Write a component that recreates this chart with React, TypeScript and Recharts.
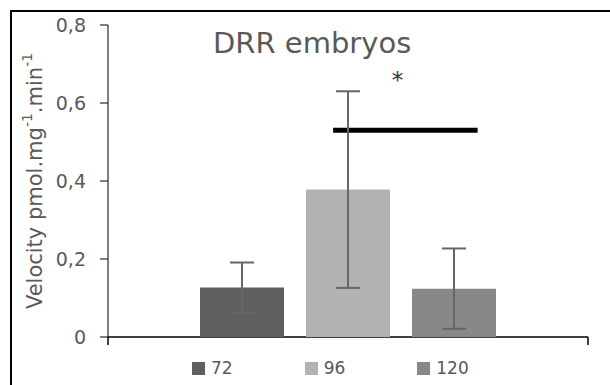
import { BarChart, Bar, XAxis, YAxis, ErrorBar, LineChart, Line, ReferenceDot } from 'recharts';

// hpf groups and measured velocity (mean, SD)
const categories = ['72', '96', '120'];
const means = [0.127, 0.378, 0.124];
const errors = [0.064, 0.252, 0.103];
const colors = ['#5f5f5f', '#b2b2b2', '#888888'];
const yTicks = [0, 0.2, 0.4, 0.6, 0.8];

// significance bar between 96 and 120 (fraction of plot width, value)
const sigBar = [
  { x: 0.469, y: 0.53 },
  { x: 0.77, y: 0.53 },
];
const sigStar = { x: 0.603, y: 0.66 };

const font = '"DejaVu Sans", sans-serif';
const textColor = '#595959';
const margin = { top: 25, right: 22, left: 0, bottom: 48 };

const row: Record<string, string | number> = { name: '' };
categories.forEach((c, i) => {
  row['m' + c] = means[i];
  row['e' + c] = errors[i];
});
const data = [row];

const fmt = (v: number) => (v === 0 ? '0' : v.toFixed(1).replace('.', ','));

function YLabel(props: any) {
  const vb = props.viewBox || {};
  const cx = vb.x + 35;
  const cy = vb.y + vb.height / 2;
  return (
    <text
      x={cx}
      y={cy}
      transform={`rotate(-90, ${cx}, ${cy})`}
      textAnchor="middle"
      dominantBaseline="central"
      fill={textColor}
      fontFamily={font}
      fontSize={21}
    >
      <tspan>Velocity pmol.mg</tspan>
      <tspan fontSize={14} dy={-8}>-1</tspan>
      <tspan dy={8}>.min</tspan>
      <tspan fontSize={14} dy={-8}>-1</tspan>
    </text>
  );
}

function Star(props: any) {
  const vb = props.viewBox || {};
  return (
    <text
      x={vb.x}
      y={vb.y}
      textAnchor="middle"
      dominantBaseline="central"
      fill="#333333"
      fontFamily={font}
      fontSize={23}
    >
      *
    </text>
  );
}

export default function App() {
  return (
    <div style={{ position: 'absolute', left: 0, top: 0, width: 610, height: 385, overflow: 'hidden', background: '#fff' }}>
      <div
        style={{
          position: 'absolute',
          left: 10,
          top: 10,
          width: 700,
          height: 500,
          borderTop: '2px solid #000',
          borderLeft: '2px solid #000',
        }}
      />
      {/* overlay: x axis line with end ticks, significance bar, asterisk */}
      <LineChart
        width={610}
        height={385}
        data={sigBar}
        margin={{ top: 25, right: 22, left: 108, bottom: 38 }}
        style={{ position: 'absolute', left: 0, top: 0 }}
      >
        <XAxis
          dataKey="x"
          type="number"
          domain={[0, 1]}
          ticks={[0, 1]}
          tickFormatter={() => ''}
          tickSize={8}
          height={10}
          stroke="#000"
          strokeWidth={1.5}
        />
        <YAxis hide domain={[0, 0.8]} />
        <Line dataKey="y" stroke="#000" strokeWidth={5} dot={false} isAnimationActive={false} />
        <ReferenceDot x={sigStar.x} y={sigStar.y} r={0} fill="none" stroke="none" label={<Star />} />
      </LineChart>
      <BarChart
        width={610}
        height={385}
        data={data}
        margin={margin}
        barSize={84}
        barGap={22}
        style={{ position: 'absolute', left: 0, top: 0 }}
      >
        <XAxis dataKey="name" hide height={0} />
        <YAxis
          width={108}
          domain={[0, 0.8]}
          ticks={yTicks}
          tickFormatter={fmt}
          tickSize={8}
          tickMargin={14}
          stroke="#000"
          tick={{ fill: textColor, fontFamily: font, fontSize: 19 }}
          label={<YLabel />}
        />
        {categories.map((c, i) => (
          <Bar key={c} dataKey={'m' + c} name={c} fill={colors[i]} isAnimationActive={false}>
            <ErrorBar dataKey={'e' + c} width={12} stroke="#666666" strokeWidth={2} direction="y" />
          </Bar>
        ))}
      </BarChart>
      <div
        style={{
          position: 'absolute',
          left: 213,
          top: 29,
          fontFamily: font,
          fontSize: 29,
          lineHeight: '28px',
          color: textColor,
          whiteSpace: 'nowrap',
        }}
      >
        DRR embryos
      </div>
      <div
        style={{
          position: 'absolute',
          left: 192,
          top: 360,
          display: 'flex',
          gap: 72,
          fontFamily: font,
          fontSize: 17,
          lineHeight: '17px',
          color: textColor,
        }}
      >
        {categories.map((c, i) => (
          <div key={c} style={{ display: 'flex', alignItems: 'center', gap: 6 }}>
            <span style={{ width: 13, height: 13, background: colors[i], display: 'inline-block' }} />
            <span>{c}</span>
          </div>
        ))}
      </div>
    </div>
  );
}
